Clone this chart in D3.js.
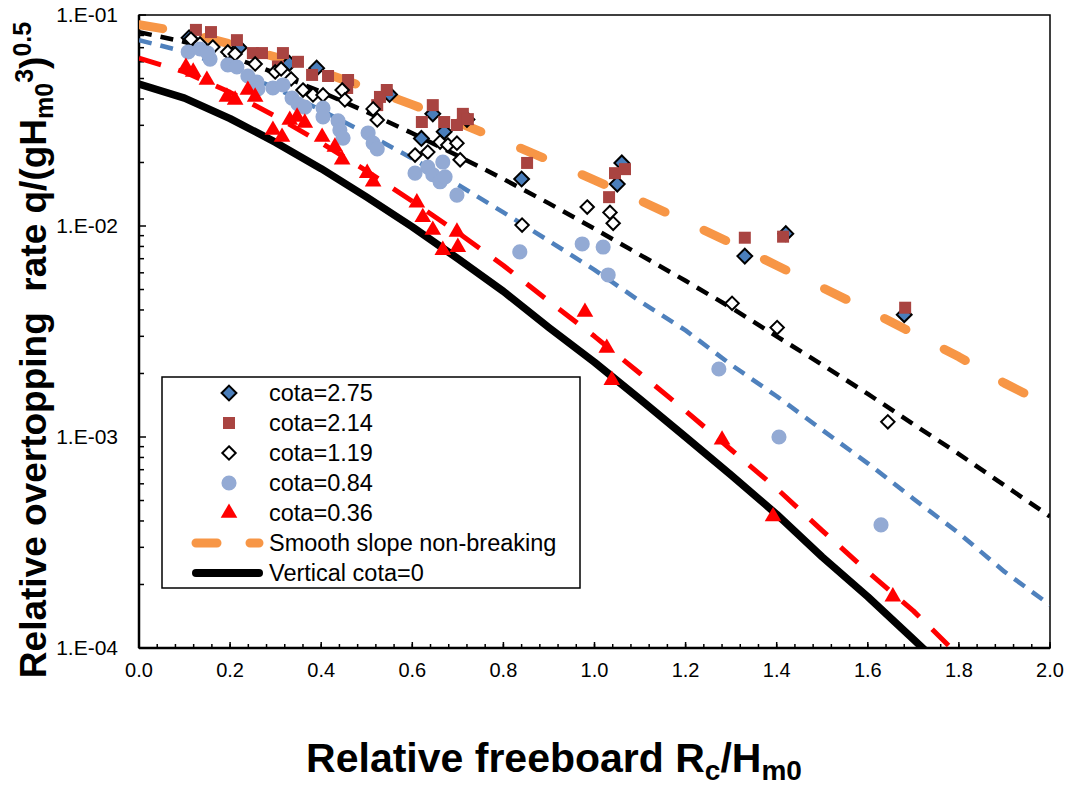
<!DOCTYPE html>
<html>
<head>
<meta charset="utf-8">
<script src="https://cdn.jsdelivr.net/npm/d3@7"></script>
<style>
  body { margin: 0; background: #fff; }
  text { font-family: "Liberation Sans", Arial, sans-serif; }
</style>
</head>
<body>
<div id="chart"></div>
<script>
// Fitted curves at steps of 0.1
var lineX = [0.0, 0.1, 0.2, 0.3, 0.4, 0.5, 0.6, 0.7, 0.8, 0.9, 1.0, 1.1, 1.2, 1.3, 1.4, 1.5, 1.6, 1.7, 1.8, 1.9, 2.0];
var smoothNonBreaking = [0.0900, 0.0827, 0.0730, 0.0632, 0.0538, 0.0452, 0.0376, 0.0310, 0.0253, 0.0205, 0.0165, 0.0132, 0.0105, 0.0083, 0.0065, 0.0051, 0.0040, 0.0031, 0.0024, 0.0018, 0.0014];
var fitCota119 = [0.0830, 0.0745, 0.0637, 0.0530, 0.0432, 0.0347, 0.0275, 0.0215, 0.0167, 0.0128, 0.0097, 0.0073, 0.0055, 0.0041, 0.0030, 0.0022, 0.0016, 0.00115, 0.00083, 0.00059, 0.00042];
var fitCota084 = [0.0760, 0.0670, 0.0558, 0.0450, 0.0354, 0.0274, 0.0209, 0.0157, 0.0116, 0.0085, 0.0062, 0.0044, 0.0032, 0.0022, 0.00156, 0.00108, 0.00075, 0.00051, 0.00035, 0.00023, 0.00016];
var fitCota036 = [0.0625, 0.0537, 0.0430, 0.0331, 0.0248, 0.0182, 0.0131, 0.0093, 0.0065, 0.0044, 0.0030, 0.0020, 0.00133, 0.00087, 0.00057, 0.00036, 0.00023, 0.00015, 0.000092, null, null];
var verticalCota0 = [0.0470, 0.0404, 0.0323, 0.0249, 0.0187, 0.0137, 0.0099, 0.0070, 0.0049, 0.0033, 0.00226, 0.00151, 0.00100, 0.00066, 0.00043, 0.00027, 0.000175, 0.00011, 0.000069, null, null];

// Measured points [Rc/Hm0, q]
var cota275 = [[0.11, 0.078], [0.22, 0.070], [0.33, 0.059], [0.39, 0.056], [0.55, 0.042], [0.62, 0.026], [0.645, 0.034], [0.67, 0.028], [0.72, 0.032], [0.84, 0.0167], [1.05, 0.0158], [1.06, 0.0199], [1.33, 0.0072], [1.42, 0.0092], [1.68, 0.0038]];
var cota214 = [[0.125, 0.085], [0.158, 0.083], [0.215, 0.076], [0.25, 0.066], [0.27, 0.066], [0.316, 0.066], [0.349, 0.060], [0.305, 0.057], [0.38, 0.052], [0.415, 0.0514], [0.459, 0.0492], [0.457, 0.0451], [0.544, 0.0441], [0.529, 0.0409], [0.523, 0.0374], [0.645, 0.0374], [0.621, 0.0311], [0.67, 0.0311], [0.711, 0.034], [0.698, 0.0301], [0.722, 0.0321], [0.852, 0.0199], [1.045, 0.0178], [1.067, 0.0186], [1.032, 0.0137], [1.33, 0.0088], [1.414, 0.0089], [1.682, 0.0041]];
var cota119 = [[0.114, 0.0769], [0.134, 0.0729], [0.162, 0.0705], [0.195, 0.0668], [0.211, 0.0654], [0.255, 0.0586], [0.299, 0.0537], [0.312, 0.0555], [0.334, 0.0498], [0.36, 0.0441], [0.382, 0.0418], [0.404, 0.0418], [0.446, 0.0441], [0.452, 0.0396], [0.514, 0.0359], [0.523, 0.0318], [0.606, 0.0217], [0.634, 0.0224], [0.661, 0.025], [0.678, 0.0242], [0.698, 0.0247], [0.705, 0.0206], [0.841, 0.0101], [0.984, 0.0123], [1.034, 0.0116], [1.041, 0.0103], [1.302, 0.0043], [1.401, 0.0033], [1.644, 0.00118]];
var cota084 = [[0.108, 0.0668], [0.134, 0.069], [0.156, 0.0618], [0.151, 0.066], [0.195, 0.058], [0.215, 0.0567], [0.239, 0.0514], [0.259, 0.0481], [0.261, 0.0446], [0.294, 0.0451], [0.316, 0.0466], [0.336, 0.0404], [0.349, 0.0379], [0.364, 0.0366], [0.404, 0.0362], [0.404, 0.0329], [0.437, 0.0315], [0.441, 0.0285], [0.448, 0.0261], [0.503, 0.0276], [0.514, 0.0247], [0.523, 0.0232], [0.606, 0.0178], [0.634, 0.019], [0.645, 0.0175], [0.661, 0.0162], [0.667, 0.0201], [0.672, 0.0171], [0.698, 0.014], [0.836, 0.00754], [0.973, 0.00822], [1.019, 0.00795], [1.03, 0.00586], [1.273, 0.0021], [1.405, 0.0010], [1.629, 0.000383]];
var cota036 = [[0.103, 0.0567], [0.119, 0.0537], [0.149, 0.0492], [0.193, 0.0409], [0.211, 0.0396], [0.239, 0.0441], [0.255, 0.0409], [0.294, 0.0285], [0.314, 0.0264], [0.331, 0.0318], [0.347, 0.0329], [0.364, 0.0308], [0.402, 0.0264], [0.43, 0.0237], [0.446, 0.0206], [0.501, 0.0178], [0.514, 0.0162], [0.61, 0.0129], [0.623, 0.011], [0.645, 0.00957], [0.667, 0.00769], [0.7, 0.00794], [0.698, 0.00937], [0.979, 0.00391], [1.027, 0.00264], [1.038, 0.00186], [1.28, 0.00097], [1.392, 0.00042], [1.655, 0.000175]];

var xTicks = [0.0, 0.2, 0.4, 0.6, 0.8, 1.0, 1.2, 1.4, 1.6, 1.8, 2.0];
var yTicks = [1e-4, 1e-3, 1e-2, 1e-1];
var yTickLabels = ["1.E-04", "1.E-03", "1.E-02", "1.E-01"];
var legendLabels = ["cota=2.75", "cota=2.14", "cota=1.19", "cota=0.84", "cota=0.36", "Smooth slope non-breaking", "Vertical cota=0"];

var svg = d3.select("#chart").append("svg")
    .attr("width", 1071)
    .attr("height", 790);

var x = d3.scaleLinear().domain([0, 2]).range([139, 1050]);
var y = d3.scaleLog().domain([1e-4, 1e-1]).range([648, 15]);

svg.append("clipPath").attr("id", "plotclip")
  .append("rect")
    .attr("x", x(0)).attr("y", y(1e-1))
    .attr("width", x(2) - x(0)).attr("height", y(1e-4) - y(1e-1));

// minor ticks: x every 0.04, y at 2..9 of each decade
var xMinor = d3.range(0, 51).map(function(i) { return i * 0.04; });
var yMinor = [];
[1e-4, 1e-3, 1e-2].forEach(function(dec) {
    for (var k = 2; k <= 9; k++) yMinor.push(dec * k);
});

var ticks = svg.append("g");
ticks.selectAll(".xminor").data(xMinor).enter().append("line")
    .attr("x1", function(d) { return x(d); }).attr("x2", function(d) { return x(d); })
    .attr("y1", y(1e-4)).attr("y2", y(1e-4) - 4)
    .attr("stroke", "#000").attr("stroke-width", 1.5);
ticks.selectAll(".xmajor").data(xTicks).enter().append("line")
    .attr("x1", function(d) { return x(d); }).attr("x2", function(d) { return x(d); })
    .attr("y1", y(1e-4)).attr("y2", y(1e-4) - 6)
    .attr("stroke", "#000").attr("stroke-width", 1.5);
ticks.selectAll(".yminor").data(yMinor).enter().append("line")
    .attr("x1", x(0)).attr("x2", x(0) + 5)
    .attr("y1", function(d) { return y(d); }).attr("y2", function(d) { return y(d); })
    .attr("stroke", "#000").attr("stroke-width", 1.5);
ticks.selectAll(".ymajor").data(yTicks).enter().append("line")
    .attr("x1", x(0)).attr("x2", x(0) + 7)
    .attr("y1", function(d) { return y(d); }).attr("y2", function(d) { return y(d); })
    .attr("stroke", "#000").attr("stroke-width", 1.5);

// frame
svg.append("rect")
    .attr("x", x(0)).attr("y", y(1e-1))
    .attr("width", x(2) - x(0)).attr("height", y(1e-4) - y(1e-1))
    .attr("fill", "none").attr("stroke", "#000").attr("stroke-width", 1.5);
svg.append("line").attr("x1", x(0)).attr("x2", x(0)).attr("y1", y(1e-1)).attr("y2", y(1e-4))
    .attr("stroke", "#000").attr("stroke-width", 2.5);
svg.append("line").attr("x1", x(0)).attr("x2", x(2)).attr("y1", y(1e-4)).attr("y2", y(1e-4))
    .attr("stroke", "#000").attr("stroke-width", 2.5);

// tick labels
svg.selectAll(".xlab").data(xTicks).enter().append("text")
    .attr("x", function(d) { return x(d); })
    .attr("y", 677)
    .attr("text-anchor", "middle")
    .style("font-size", "20px")
    .text(function(d) { return d.toFixed(1); });
svg.selectAll(".ylab").data(yTicks).enter().append("text")
    .attr("x", 118)
    .attr("y", function(d) { return y(d) + 7; })
    .attr("text-anchor", "end")
    .style("font-size", "21px")
    .text(function(d, i) { return yTickLabels[i]; });

// curves
var line = d3.line()
    .defined(function(d) { return d[1] != null; })
    .x(function(d) { return x(d[0]); })
    .y(function(d) { return y(d[1]); });
function pairs(vals) { return lineX.map(function(v, i) { return [v, vals[i]]; }); }

var curves = [
    {vals: smoothNonBreaking, color: "#F79646", width: 9, dash: "24,43", cap: "round"},
    {vals: fitCota119, color: "#000000", width: 4.5, dash: "13,9", cap: "butt"},
    {vals: fitCota084, color: "#4F81BD", width: 4.5, dash: "13,9", cap: "butt"},
    {vals: fitCota036, color: "#FF0000", width: 5, dash: "23,18", cap: "butt"},
    {vals: verticalCota0, color: "#000000", width: 7.5, dash: null, cap: "butt"}
];
var plot = svg.append("g").attr("clip-path", "url(#plotclip)");
curves.forEach(function(c) {
    plot.append("path")
        .datum(pairs(c.vals))
        .attr("d", line)
        .attr("fill", "none")
        .attr("stroke", c.color)
        .attr("stroke-width", c.width)
        .attr("stroke-linecap", c.cap)
        .attr("stroke-linejoin", "round")
        .attr("stroke-dasharray", c.dash);
});

// markers
var diamond = {
    draw: function(ctx, size) {
        var r = Math.sqrt(size / 2);
        ctx.moveTo(0, -r); ctx.lineTo(r, 0); ctx.lineTo(0, r); ctx.lineTo(-r, 0); ctx.closePath();
    }
};
var series = [
    {data: cota275, type: diamond, size: 110, fill: "#4A7EBB", stroke: "#000", sw: 2},
    {data: cota214, type: d3.symbolSquare, size: 144, fill: "#A94441", stroke: "none", sw: 0},
    {data: cota119, type: diamond, size: 90, fill: "#fff", stroke: "#000", sw: 2},
    {data: cota084, type: d3.symbolCircle, size: 180, fill: "#93AAD4", stroke: "none", sw: 0},
    {data: cota036, type: d3.symbolTriangle, size: 120, fill: "#FF0000", stroke: "none", sw: 0}
];
series.forEach(function(s) {
    plot.append("g").selectAll("path")
        .data(s.data)
      .enter().append("path")
        .attr("transform", function(d) { return "translate(" + x(d[0]) + "," + y(d[1]) + ")"; })
        .attr("d", d3.symbol().type(s.type).size(s.size))
        .attr("fill", s.fill)
        .attr("stroke", s.stroke)
        .attr("stroke-width", s.sw);
});

// legend
var legend = svg.append("g");
legend.append("rect")
    .attr("x", 162).attr("y", 377).attr("width", 418).attr("height", 211)
    .attr("fill", "#fff").attr("stroke", "#000").attr("stroke-width", 1.5);
var rowY = function(i) { return 393 + i * 30; };
series.forEach(function(s, i) {
    legend.append("path")
        .attr("transform", "translate(229," + rowY(i) + ")")
        .attr("d", d3.symbol().type(s.type).size(s.size))
        .attr("fill", s.fill)
        .attr("stroke", s.stroke)
        .attr("stroke-width", s.sw);
});
legend.append("line")
    .attr("x1", 196).attr("x2", 259).attr("y1", rowY(5)).attr("y2", rowY(5))
    .attr("stroke", "#F79646").attr("stroke-width", 9)
    .attr("stroke-linecap", "round").attr("stroke-dasharray", "21,33");
legend.append("line")
    .attr("x1", 196).attr("x2", 259).attr("y1", rowY(6)).attr("y2", rowY(6))
    .attr("stroke", "#000").attr("stroke-width", 8)
    .attr("stroke-linecap", "round");
legend.selectAll(".ltext").data(legendLabels).enter().append("text")
    .attr("x", 269)
    .attr("y", function(d, i) { return rowY(i) + 8; })
    .style("font-size", "23.5px")
    .text(function(d) { return d; });

// axis titles
var yt = svg.append("text")
    .attr("transform", "translate(46," + 350 + ") rotate(-90)")
    .attr("text-anchor", "middle")
    .style("font-size", "37px")
    .style("font-weight", "bold");
yt.append("tspan").text("Relative overtopping  rate q/(gH").style("white-space", "pre");
yt.append("tspan").attr("dy", 7).style("font-size", "25px").text("m0");
yt.append("tspan").attr("dy", -20).style("font-size", "25px").text("3");
yt.append("tspan").attr("dy", 13).text(")");
yt.append("tspan").attr("dy", -15).style("font-size", "25px").text("0.5");

var xt = svg.append("text")
    .attr("x", 554).attr("y", 772)
    .attr("text-anchor", "middle")
    .style("font-size", "41px")
    .style("font-weight", "bold");
xt.append("tspan").text("Relative freeboard R");
xt.append("tspan").attr("dy", 8).style("font-size", "28px").text("c");
xt.append("tspan").attr("dy", -8).text("/H");
xt.append("tspan").attr("dy", 8).style("font-size", "28px").text("m0");
</script>
</body>
</html>
